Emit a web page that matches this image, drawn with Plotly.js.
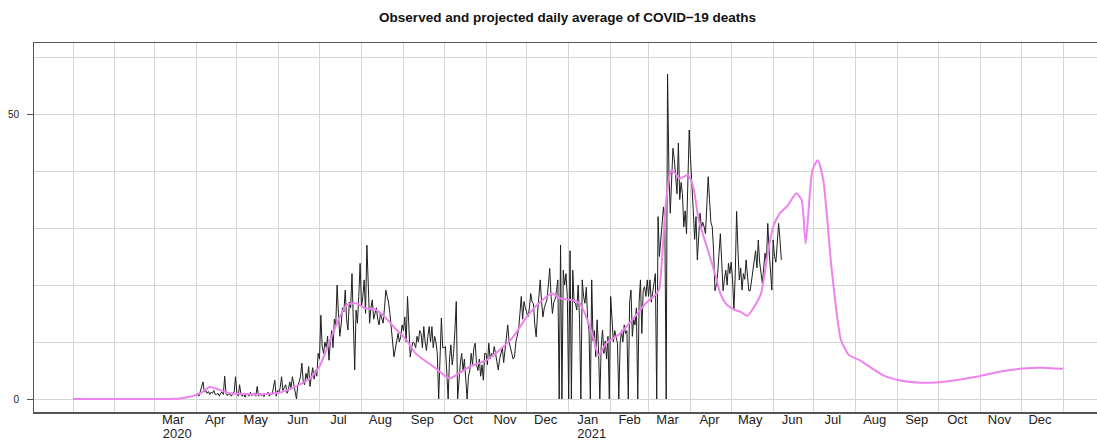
<!DOCTYPE html>
<html>
<head>
<meta charset="utf-8">
<script src="https://cdn.plot.ly/plotly-3.0.1.min.js"></script>
<style>
html,body{margin:0;padding:0;background:#fff;}
#chart{width:1097px;height:441px;}
</style>
</head>
<body>
<div id="chart"></div>
<script>
// ---- Observed daily deaths (black), one value per day starting 2020-04-01 ----
const observedStart = '2020-04-01';
const obs2020Apr = [0.5,1,0.5,1.5,2,3,1.2,1.5,1,1.3,0.8,1.2,1,1.5,0.8,0.8,1,0.5,1,1.2,0.8,4,1,0.6,1,0.8,0.5,1,1.2,3.9];
const obs2020May = [1,0.5,2.5,0.8,0.5,1,0.3,0.8,1,0.5,1.2,0.6,0.8,1,0.5,2.2,0.5,1,0.6,0.8,0.4,1,0.7,1.2,0.5,1,0.8,2.5,3.3,0.5,1.5];
const obs2020Jun = [1,2,3.9,1.5,2,2.5,1,1.5,3,2,3.9,2.5,1.5,0,2.5,3,4,6.3,3,2.5,4.5,3.5,5.7,2.2,4,5.5,3.5,5.1,4,8];
const obs2020Jul = [7,14.7,9.2,8,10,9,11,6.8,10,12,9,14,13,20,15,11,13,16,15.3,19.1,14,12.1,17,16,22,14,5.1,15.6,13.3,18,23.8];
const obs2020Aug = [16.2,18,20.9,15,27,18,13.3,16,17.4,14,15,16,14,13,15,14,13.3,16,19.1,18,17,15,13,10,7.4,9,10,11.5,10,11,13];
const obs2020Sep = [12,14.4,10,18,12,7.4,9,10,9.8,9,11,10,12,11.5,9,12.7,10,8.5,11,12.7,10,12.7,9,11,10,8,0,6,14.2,9];
const obs2020Oct = [9,9.2,5,0,7,9.5,6,8,12,17.1,0,4,6.3,8,5,7,3,0,4,5,8,6,9,9.8,6,5,7,4,6,3.3,8];
const obs2020Nov = [8,6,9.8,7,8,7.4,9.2,8,6.4,5.1,7,8,9,6.4,9,11,13,10,9.2,8,7,7.4,10,11,12.1,15,18,14,17.1,16];
const obs2020Dec = [15,14.4,16,18.5,17,16.7,13,10.9,15,18,20.9,17,14.4,16,17,17.5,20,22.9,18,15,17,17.5,19,20.9,0,27,0,22.6,20,22,18];
const obs2021Jan = [0,26,0,22.6,17,16.8,15.6,20,14,0,20.9,18,16.8,19.6,14,12,0,20.9,10.2,12,7.4,13.9,9,0,9.2,12.1,8,10.2,7,11,0];
const obs2021Feb = [18,13,10,12,11,9.8,0,9.8,12,10,13,11.5,12,0,17,19.1,11,14,13,16,0,17,20.9,11.5,19,19.7,18,20.9];
const obs2021Mar = [18,20.9,17,18.5,20,22,0,32,25,28,30,33.7,31,0,57,40,32.6,38,44,42,38,36,44.9,35,38,36,30.2,33,29,40,47.2];
const obs2021Apr = [42,36,33,28,32,24.4,28,32.6,30,31,30.2,29,34,39,35,31,30.2,26,19,20,22,25,29,24,19,21,22.6,20,23.8,22];
const obs2021May = [24,21,15.6,22,32.9,26,20.9,23,19.1,22,21,24.4,22,19,19,21,22,24,26,23,27.9,24,22,20.3,23,25.6,24,30.8,26,22,19.1];
const obs2021Jun = [27.9,25,24,27,30.8,28,24.4];

// ---- Observed + projected smoothed curve (violet) ----
const projDates = ['2020-01-01','2020-02-27','2020-03-20','2020-03-27','2020-04-04','2020-04-11','2020-04-18','2020-04-26','2020-05-03','2020-05-15','2020-05-25','2020-06-01','2020-06-09','2020-06-16','2020-06-24','2020-07-01','2020-07-08','2020-07-15','2020-07-21','2020-07-28','2020-08-04','2020-08-12','2020-08-19','2020-08-27','2020-09-03','2020-09-10','2020-09-17','2020-09-23','2020-10-05','2020-10-12','2020-10-20','2020-11-01','2020-11-11','2020-11-21','2020-12-01','2020-12-10','2020-12-20','2020-12-25','2021-01-02','2021-01-09','2021-01-14','2021-01-19','2021-01-23','2021-01-29','2021-02-08','2021-02-17','2021-02-27','2021-03-07','2021-03-09','2021-03-14','2021-03-18','2021-03-24','2021-03-30','2021-04-03','2021-04-07','2021-04-13','2021-04-19','2021-04-23','2021-04-28','2021-05-04','2021-05-08','2021-05-13','2021-05-18','2021-05-23','2021-05-28','2021-06-01','2021-06-06','2021-06-12','2021-06-18','2021-06-22','2021-06-25','2021-06-30','2021-07-04','2021-07-08','2021-07-14','2021-07-21','2021-07-27','2021-08-04','2021-08-09','2021-08-21','2021-09-02','2021-09-15','2021-09-29','2021-10-14','2021-10-29','2021-11-15','2021-11-30','2021-12-15','2022-01-01'];
const projValues = [0,0,0.1,0.4,1.0,2.1,1.6,1.0,0.9,0.8,0.9,1.1,1.7,2.5,3.6,5.7,9.8,13.9,16.5,16.8,15.9,15.6,14.2,12.1,10.4,8.0,6.7,5.7,3.6,4.5,5.7,6.8,8.6,10.9,14.4,16.8,18.5,17.7,17.4,16.8,14.4,10.9,7.7,9.8,11.5,13.9,16.8,18.5,19.5,34.9,40.2,38.7,39.3,37.2,31.4,26.7,22.0,18.5,16.5,15.6,15.3,14.6,16.2,18.5,25.6,30.2,32.6,34.0,36.1,34.9,27.3,40.2,41.9,38.4,23.2,10.4,7.7,6.8,6.0,4.2,3.3,2.9,2.9,3.3,3.9,4.8,5.3,5.5,5.3];

// ---- Axis ticks ----
const gridMonths = ['2020-01-01','2020-02-01','2020-03-01','2020-04-01','2020-05-01','2020-06-01','2020-07-01','2020-08-01','2020-09-01','2020-10-01','2020-11-01','2020-12-01','2021-01-01','2021-02-01','2021-03-01','2021-04-01','2021-05-01','2021-06-01','2021-07-01','2021-08-01','2021-09-01','2021-10-01','2021-11-01','2021-12-01','2022-01-01'];
const monthLabelDates = ['2020-03-15','2020-04-15','2020-05-15','2020-06-15','2020-07-15','2020-08-15','2020-09-15','2020-10-15','2020-11-15','2020-12-15','2021-01-15','2021-02-15','2021-03-15','2021-04-15','2021-05-15','2021-06-15','2021-07-15','2021-08-15','2021-09-15','2021-10-15','2021-11-15','2021-12-15'];
const monthLabelText = ['Mar','Apr','May','Jun','Jul','Aug','Sep','Oct','Nov','Dec','Jan','Feb','Mar','Apr','May','Jun','Jul','Aug','Sep','Oct','Nov','Dec'];
const yearLabelDates = ['2020-03-18','2021-01-18'];
const yearLabelText = ['2020','2021'];
const yGrid = [0,10,20,30,40,50,60];
const yLabels = [0,50];

const observed = [].concat(obs2020Apr,obs2020May,obs2020Jun,obs2020Jul,obs2020Aug,obs2020Sep,obs2020Oct,obs2020Nov,obs2020Dec,obs2021Jan,obs2021Feb,obs2021Mar,obs2021Apr,obs2021May,obs2021Jun);
function dayAfter(start, n){
  const p = start.split('-').map(Number);
  const d = new Date(Date.UTC(p[0], p[1]-1, p[2] + n));
  return d.toISOString().slice(0,10);
}
const observedDates = observed.map((v,i)=>dayAfter(observedStart,i));

const xRange = ['2019-12-03 04:48','2022-01-26 02:24'];
const yRange = [-2.28, 62.46];
const frameColor = '#555555';
const gridColor = '#d4d4d4';
const font = 'Liberation Sans, Arial, Helvetica, sans-serif';
const tickFont = {family:font, size:13, color:'#222222'};

const data = [
  {x: observedDates, y: observed, type:'scatter', mode:'lines',
   line:{color:'#1e1e1e', width:1}, hoverinfo:'skip', showlegend:false},
  {x: projDates, y: projValues, type:'scatter', mode:'lines',
   line:{color:'#ee82ee', width:2, shape:'spline', smoothing:0.6}, hoverinfo:'skip', showlegend:false},
  {x: [monthLabelDates[0]], y: [yLabels[0]], xaxis:'x2', yaxis:'y2', type:'scatter', mode:'markers',
   marker:{opacity:0}, hoverinfo:'skip', showlegend:false},
  {x: [yearLabelDates[0]], y: [yLabels[0]], xaxis:'x3', yaxis:'y2', type:'scatter', mode:'markers',
   marker:{opacity:0}, hoverinfo:'skip', showlegend:false}
];

const layout = {
  width:1097, height:441,
  margin:{l:34, r:0, t:43, b:29, pad:0},
  paper_bgcolor:'#ffffff', plot_bgcolor:'#ffffff',
  font:{family:font, color:'#222222'},
  title:{text:'Observed and projected daily average of COVID\u221219 deaths',
         font:{family:font, size:13.5, color:'#111111', weight:'bold'},
         x:0.502, xanchor:'center', xref:'paper', y:1-17/441, yref:'container', yanchor:'middle'},
  xaxis:{type:'date', range:xRange, tickmode:'array', tickvals:gridMonths, showticklabels:false,
         ticks:'', showgrid:true, gridcolor:gridColor, gridwidth:1, zeroline:false,
         showline:true, mirror:true, linecolor:frameColor, linewidth:1.5},
  xaxis2:{type:'date', range:xRange, overlaying:'x', anchor:'y', side:'bottom', tickmode:'array',
          tickvals:monthLabelDates, ticktext:monthLabelText, ticks:'', showgrid:false, zeroline:false, showline:false,
          tickfont:tickFont, ticklabelstandoff:-2},
  xaxis3:{type:'date', range:xRange, overlaying:'x', anchor:'y', side:'bottom', tickmode:'array',
          tickvals:yearLabelDates, ticktext:yearLabelText, ticks:'', showgrid:false, zeroline:false, showline:false,
          tickfont:tickFont, ticklabelstandoff:12},
  yaxis:{range:yRange, tickmode:'array', tickvals:yGrid, showticklabels:false, ticks:'',
         showgrid:true, gridcolor:gridColor, gridwidth:1, zeroline:false,
         showline:true, linecolor:frameColor, linewidth:1.5},
  yaxis2:{range:yRange, overlaying:'y', anchor:'x', side:'left', tickmode:'array', tickvals:yLabels,
          ticks:'outside', ticklen:6, tickwidth:1, tickcolor:'#555555', showgrid:false, zeroline:false,
          showline:false, tickfont:{family:font, size:10, color:'#222222'}, ticklabelstandoff:6}
};

Plotly.newPlot('chart', data, layout, {staticPlot:true, displayModeBar:false});
</script>
</body>
</html>
